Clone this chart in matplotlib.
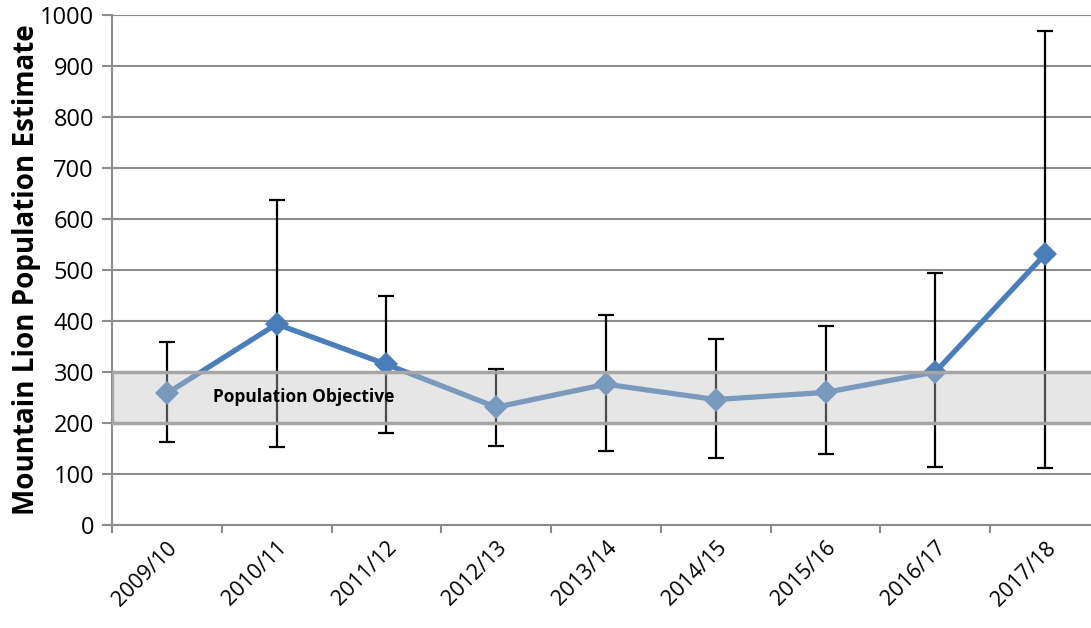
import matplotlib.pyplot as plt
import matplotlib.patches as mpatches
import numpy as np

seasons = ['2009/10', '2010/11', '2011/12', '2012/13', '2013/14',
           '2014/15', '2015/16', '2016/17', '2017/18']
estimate = [258, 394, 315, 231, 276, 246, 260, 300, 531]
upper = [359, 637, 450, 305, 411, 365, 390, 494, 969]
lower = [163, 153, 180, 155, 146, 132, 139, 114, 112]
objective_low = 200
objective_high = 300

plt.rcParams['font.family'] = ['Open Sans', 'DejaVu Sans']

fig = plt.figure(figsize=(10.91, 6.28), dpi=100)
ax = fig.add_axes([112 / 1091, 1 - 525 / 628, 988 / 1091, 510 / 628])

x = np.arange(len(seasons))
est = np.array(estimate)
err = [est - np.array(lower), np.array(upper) - est]

ax.errorbar(x, est, yerr=err, fmt='none', ecolor='black', elinewidth=1.6,
            capsize=6, capthick=1.6, zorder=2)
ax.plot(x, est, color='#4A7EBB', lw=3.8, marker='D', markersize=12,
        markeredgewidth=0, zorder=3)

# population objective band, drawn over the data like in the original
band = mpatches.Rectangle((-0.5, objective_low), len(seasons),
                          objective_high - objective_low,
                          facecolor=(0.76, 0.76, 0.76, 0.4),
                          edgecolor='#A6A6A6', lw=2.5, zorder=4)
ax.add_patch(band)
ax.text(0.42, 250, 'Population Objective', fontsize=12.5, fontweight='bold',
        va='center', ha='left', zorder=5)

ax.set_xlim(-0.5, len(seasons) - 0.5)
ax.set_ylim(0, 1000)
ax.set_yticks(np.arange(0, 1001, 100))
ax.set_xticks(x)
ax.set_xticklabels(seasons, rotation=45, ha='right', rotation_mode='anchor',
                   fontsize=15.5)
ax.set_xticks(np.arange(-0.5, len(seasons), 1), minor=True)
ax.tick_params(axis='x', which='major', length=0, pad=9)
ax.tick_params(axis='x', which='minor', length=6, width=1.5, color='#8C8C8C',
               direction='out')
ax.tick_params(axis='y', length=7, width=1.5, color='#8C8C8C', labelsize=17,
               direction='out', pad=6)
ax.yaxis.grid(True, color='#8C8C8C', lw=1.5, zorder=0.5)
ax.set_axisbelow(True)

for side in ['top', 'right']:
    ax.spines[side].set_visible(False)
for side in ['left', 'bottom']:
    ax.spines[side].set_color('#8C8C8C')
    ax.spines[side].set_linewidth(1.5)

ax.set_ylabel('Mountain Lion Population Estimate', fontsize=20,
              fontweight='bold', labelpad=-1)

fig.savefig('out.png', dpi=100)
